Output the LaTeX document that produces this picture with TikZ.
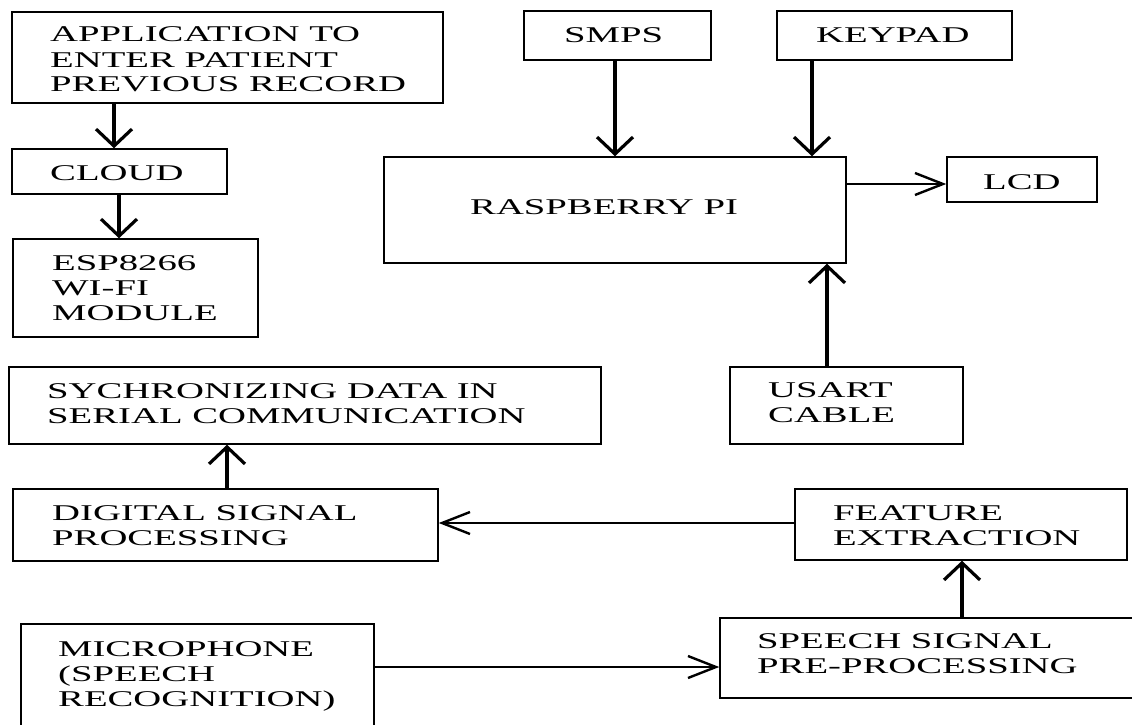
\documentclass[tikz,border=0pt]{standalone}
\usepackage{fontspec}
\setmainfont{Liberation Serif}[FakeStretch=1.72]
\usetikzlibrary{arrows.meta}
\newcommand{\ml}[1]{\begin{tabular}[t]{@{}l@{}}#1\end{tabular}}
\begin{document}
\begin{tikzpicture}[x=1pt,y=-1pt,
  box/.style={draw, line width=1.5pt, inner sep=0pt, rectangle},
  lbl/.style={anchor=base west, inner sep=0pt, font=\fontsize{22.5}{25}\selectfont},
  varr/.style={line width=3.2pt, -{Straight Barb[length=17pt,width=36pt]}},
  harr/.style={line width=2.4pt, -{Straight Barb[length=28pt,width=22pt]}}]
\useasboundingbox (0,0) rectangle (1132,725);
\clip (0,0) rectangle (1132,725);
% boxes
\node[box, minimum width=431pt, minimum height=91pt] (app) at (227.5,57.5) {};
\node[box, minimum width=215pt, minimum height=45pt] (cloud) at (119.5,171.5) {};
\node[box, minimum width=245pt, minimum height=98pt] (esp) at (135.5,288) {};
\node[box, minimum width=187pt, minimum height=49pt] (smps) at (617.5,35.5) {};
\node[box, minimum width=235pt, minimum height=49pt] (keypad) at (894.5,35.5) {};
\node[box, minimum width=462pt, minimum height=106pt] (rpi) at (615,210) {};
\node[box, minimum width=150pt, minimum height=45pt] (lcd) at (1022,179.5) {};
\node[box, minimum width=233pt, minimum height=77pt] (usart) at (846.5,405.5) {};
\node[box, minimum width=592pt, minimum height=77pt] (sync) at (305,405.5) {};
\node[box, minimum width=425pt, minimum height=72pt] (dsp) at (225.5,525) {};
\node[box, minimum width=332pt, minimum height=71pt] (feat) at (961,524.5) {};
\node[box, minimum width=420pt, minimum height=80pt] (speech) at (930,658) {};
\node[box, minimum width=353pt, minimum height=116pt] (mic) at (197.5,682) {};
% texts
\node[lbl] (appT) at (50,42) {\ml{APPLICATION TO\\ENTER PATIENT\\PREVIOUS RECORD}};
\node[lbl] (cloudT) at (50,180) {CLOUD};
\node[lbl] (espT) at (52,270) {\ml{ESP8266\\WI-FI\\MODULE}};
\node[lbl] (smpsT) at (564,43) {SMPS};
\node[lbl] (keypadT) at (816,43) {KEYPAD};
\node[lbl] (rpiT) at (470,214) {RASPBERRY PI};
\node[lbl] (lcdT) at (983,189) {LCD};
\node[lbl] (usartT) at (768,397) {\ml{USART\\CABLE}};
\node[lbl] (syncT) at (47,398) {\ml{SYCHRONIZING DATA IN\\SERIAL COMMUNICATION}};
\node[lbl] (dspT) at (52,520) {\ml{DIGITAL SIGNAL\\PROCESSING}};
\node[lbl] (featT) at (833,520) {\ml{FEATURE\\EXTRACTION}};
\node[lbl] (speechT) at (757,648) {\ml{SPEECH SIGNAL\\PRE-PROCESSING}};
\node[lbl] (micT) at (58,656) {\ml{MICROPHONE\\(SPEECH\\RECOGNITION)}};
% connectors
\draw[varr] ([xshift=-113.5pt]app.south) -- ([xshift=-113.5pt]app.south |- cloud.north);
\draw[varr] ([xshift=-0.5pt]cloud.south) -- ([xshift=-0.5pt]cloud.south |- esp.north);
\draw[varr] ([xshift=-2.5pt]smps.south) -- ([xshift=-2.5pt]smps.south |- rpi.north);
\draw[varr] ([xshift=-82.5pt]keypad.south) -- ([xshift=-82.5pt]keypad.south |- rpi.north);
\draw[harr] ([yshift=26pt]rpi.east) -- ([yshift=26pt]rpi.east -| lcd.west);
\draw[varr] ([xshift=-19.5pt]usart.north) -- ([xshift=-19.5pt]usart.north |- rpi.south);
\draw[varr] ([xshift=1.5pt]dsp.north) -- ([xshift=1.5pt]dsp.north |- sync.south);
\draw[harr] ([yshift=1.5pt]feat.west) -- ([yshift=1.5pt]feat.west -| dsp.east);
\draw[varr] ([xshift=32pt]speech.north) -- ([xshift=32pt]speech.north |- feat.south);
\draw[harr] ([yshift=15pt]mic.east) -- ([yshift=15pt]mic.east -| speech.west);
\end{tikzpicture}
\end{document}
